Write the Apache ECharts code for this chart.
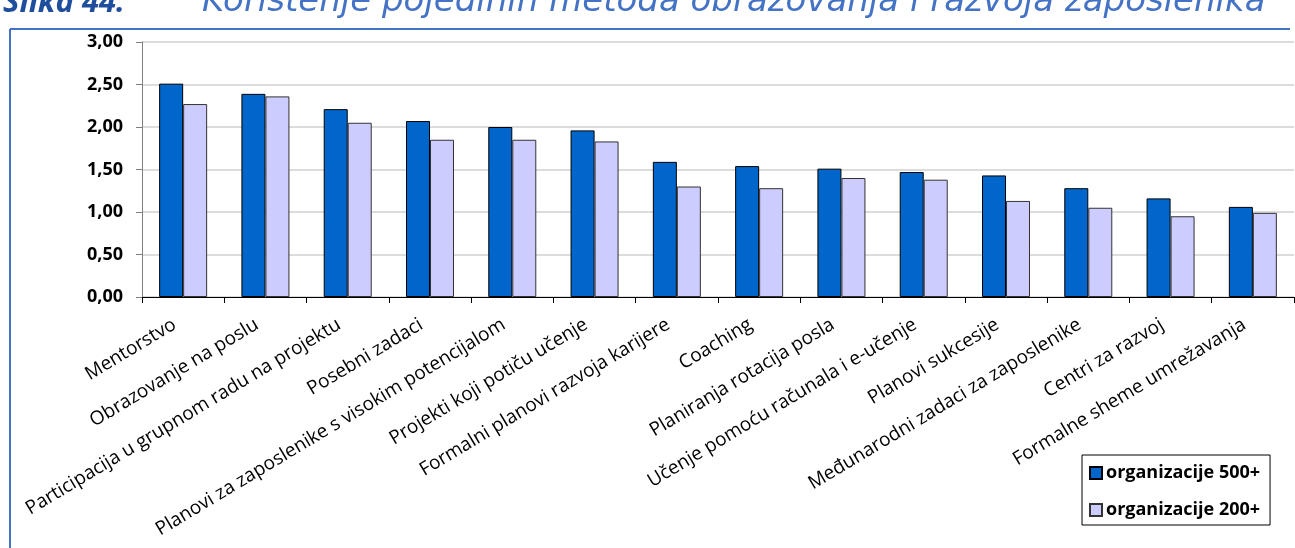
<!DOCTYPE html>
<html><head><meta charset="utf-8">
<script src="https://cdn.jsdelivr.net/npm/echarts@6/dist/echarts.min.js"></script>
<style>html,body{margin:0;padding:0;background:#fff;}#c{width:1295px;height:548px;}</style>
</head><body><div id="c"></div>
<script>
var categories = ["Mentorstvo","Obrazovanje na poslu","Participacija u grupnom radu na projektu","Posebni zadaci","Planovi za zaposlenike s visokim potencijalom","Projekti koji potiču učenje","Formalni planovi razvoja karijere","Coaching","Planiranja rotacija posla","Učenje pomoću računala i e-učenje","Planovi sukcesije","Međunarodni zadaci za zaposlenike","Centri za razvoj","Formalne sheme umrežavanja"];
var org500 = [2.51,2.39,2.21,2.07,2.00,1.96,1.59,1.54,1.51,1.47,1.43,1.28,1.16,1.06];
var org200 = [2.27,2.36,2.05,1.85,1.85,1.83,1.30,1.28,1.40,1.38,1.13,1.05,0.95,0.99];
var seriesNames = ["organizacije 500+","organizacije 200+"];
var titleBold = "Slika 44:";
var titleItalic = "Korištenje pojedinih metoda obrazovanja i razvoja zaposlenika";

var chart = echarts.init(document.getElementById('c'), null, {renderer:'canvas'});
var fontF = '"Open Sans", sans-serif';
chart.setOption({
  animation:false,
  backgroundColor:'#fff',
  grid:{left:142,right:1,top:42,bottom:251,containLabel:false},
  legend:{
    orient:'vertical', left:1082, top:455,
    data:seriesNames,
    backgroundColor:'#fff', borderColor:'#000', borderWidth:1,
    padding:[9,10,6,7], itemGap:19, itemWidth:12, itemHeight:12,
    icon:'rect',
    textStyle:{fontFamily:fontF, fontWeight:'bold', fontSize:18, color:'#000', padding:[0,0,0,-1]}
  },
  xAxis:{
    type:'category', data:categories,
    axisLine:{lineStyle:{color:'#000',width:1}},
    axisTick:{show:true, alignWithLabel:false, length:6, lineStyle:{color:'#000'}},
    axisLabel:{rotate:31, interval:0, margin:21, padding:[0,10,0,0], fontFamily:fontF, fontSize:19, color:'#000'}
  },
  yAxis:{
    type:'value', min:0, max:3, interval:0.5,
    axisLine:{show:true, lineStyle:{color:'#808080'}},
    axisTick:{show:true, inside:false, length:6, lineStyle:{color:'#808080'}},
    splitLine:{lineStyle:{color:'#d0d0d0', width:1.5}},
    axisLabel:{fontFamily:fontF, fontWeight:'bold', fontSize:18, color:'#000', margin:19,
      formatter:function(v){return v.toFixed(2).replace('.',',');}}
  },
  series:[
    {name:seriesNames[0], type:'bar', data:org500, barWidth:24, barGap:'0%',
     itemStyle:{color:'#0066CC', borderColor:'#000', borderWidth:1}},
    {name:seriesNames[1], type:'bar', data:org200, barWidth:24, barGap:'0%',
     itemStyle:{color:'#CCCCFF', borderColor:'#333', borderWidth:1}}
  ],
  graphic:[
    {type:'line', shape:{x1:10,y1:29,x2:10,y2:548}, style:{stroke:'#4472C4', lineWidth:2}, silent:true},
    {type:'line', shape:{x1:10,y1:29,x2:1290,y2:29}, style:{stroke:'#4472C4', lineWidth:2}, silent:true},
    {type:'text', left:3, top:-12, style:{text:titleBold, font:'bold italic 31px "Open Sans", sans-serif', fill:'#1F4E9C'}},
    {type:'text', left:202, top:-15, style:{text:titleItalic, font:'oblique 34px "DejaVu Sans", sans-serif', fill:'#4472C4'}}
  ]
});
</script></body></html>
